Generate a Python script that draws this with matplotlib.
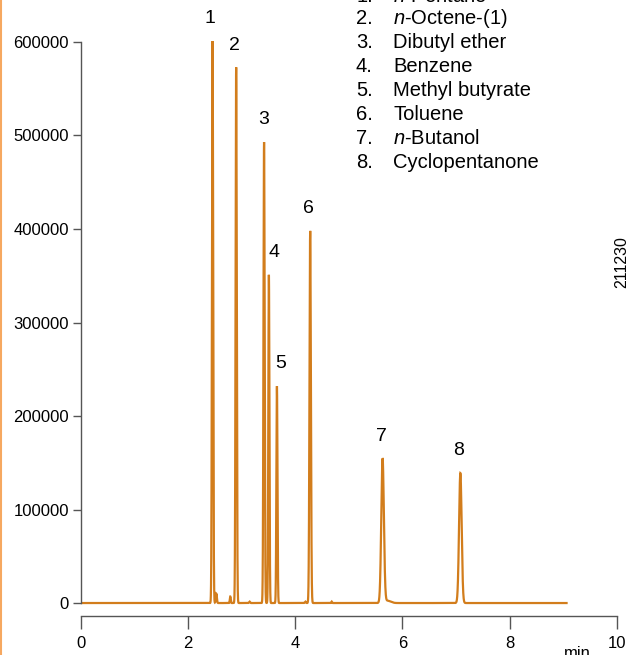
import matplotlib.pyplot as plt
import matplotlib.lines as mlines
import numpy as np

# peak table (time in min, height in counts)
peak_times = [2.46, 2.90, 3.42, 3.51, 3.66, 4.28, 5.63, 7.08]
peak_heights = [601000, 573000, 493000, 351000, 232000, 398000, 154000, 139000]
peak_sigmas = [0.011, 0.011, 0.011, 0.010, 0.010, 0.013, 0.024, 0.024]
peak_labels = ["1", "2", "3", "4", "5", "6", "7", "8"]

# small unlabeled bumps and the tail after peak 7
minor_times = [2.53, 2.79, 3.15, 4.19, 4.68, 5.72]
minor_heights = [10000, 7000, 1500, 1500, 1500, 2500]
minor_sigmas = [0.010, 0.008, 0.010, 0.010, 0.008, 0.06]

run_end = 9.06

compounds = [r"$\it{n}$-Pentane", r"$\it{n}$-Octene-(1)", "Dibutyl ether",
             "Benzene", "Methyl butyrate", "Toluene", r"$\it{n}$-Butanol",
             "Cyclopentanone"]

x_ticks = [0, 2, 4, 6, 8, 10]
y_ticks = [0, 100000, 200000, 300000, 400000, 500000, 600000]

plt.rcParams['font.family'] = ['Liberation Sans', 'DejaVu Sans']
plt.rcParams['mathtext.fontset'] = 'custom'
plt.rcParams['mathtext.it'] = 'Liberation Sans:italic'
plt.rcParams['mathtext.rm'] = 'Liberation Sans'

t = np.linspace(0, run_end, 30000)
signal = np.zeros_like(t)
for tm, h, s in zip(peak_times + minor_times, peak_heights + minor_heights,
                    peak_sigmas + minor_sigmas):
    signal += h * np.exp(-0.5 * ((t - tm) / s) ** 2)

fig = plt.figure(figsize=(6.3, 6.55), dpi=100)
ax = fig.add_axes([0.128, 0.0595, 0.8513, 0.9405])

line_color = "#d27d1c"
axis_color = "#555555"
ax.plot(t, signal, color=line_color, lw=1.6, solid_joinstyle="miter")

ax.set_xlim(0, 10)
ax.set_ylim(-13900, 644900)

ax.spines["top"].set_visible(False)
ax.spines["right"].set_visible(False)
ax.spines["left"].set_bounds(0, 600000)
ax.spines["bottom"].set_bounds(0, 10)
for sp in ["left", "bottom"]:
    ax.spines[sp].set_color(axis_color)
    ax.spines[sp].set_linewidth(1.0)

ax.set_xticks(x_ticks)
ax.set_xticklabels([str(v) for v in x_ticks])
ax.set_yticks(y_ticks)
ax.set_yticklabels([str(v) for v in y_ticks])
ax.tick_params(axis="x", direction="out", length=9.5, width=1.0, color=axis_color,
               labelsize=12, pad=5)
ax.tick_params(axis="y", direction="out", length=5.5, width=1.0, color=axis_color,
               labelsize=12, pad=3)

# peak numbers
label_dx = [-2, -1, 0, 4, 3, -1, -1, -1]
for tm, h, lab, dx in zip(peak_times, peak_heights, peak_labels, label_dx):
    ax.annotate(lab, (tm, h), xytext=(dx, 16), textcoords="offset points",
                ha="center", va="center", fontsize=14)

# compound list (first line runs off the top edge, as in the original)
for i, name in enumerate(compounds):
    ypix = -3.0 if i == 0 else 18.5 + 24 * (i - 1)
    y = 1 - ypix / 655
    fig.text(356 / 630, y, f"{i + 1}.", fontsize=14.5, ha="left", va="center")
    fig.text(393 / 630, y, name, fontsize=14.5, ha="left", va="center")

fig.text(577 / 630, 1 - 654 / 655, "min", fontsize=12, ha="center", va="center")
fig.text(622 / 630, 1 - 262 / 655, "211230", fontsize=11.5, rotation=90,
         ha="center", va="center")

# orange frame edge at the left
fig.add_artist(mlines.Line2D([0.002, 0.002], [0, 1], transform=fig.transFigure,
                             color="#f6a860", lw=1.5))

fig.savefig("out.png", dpi=100)
